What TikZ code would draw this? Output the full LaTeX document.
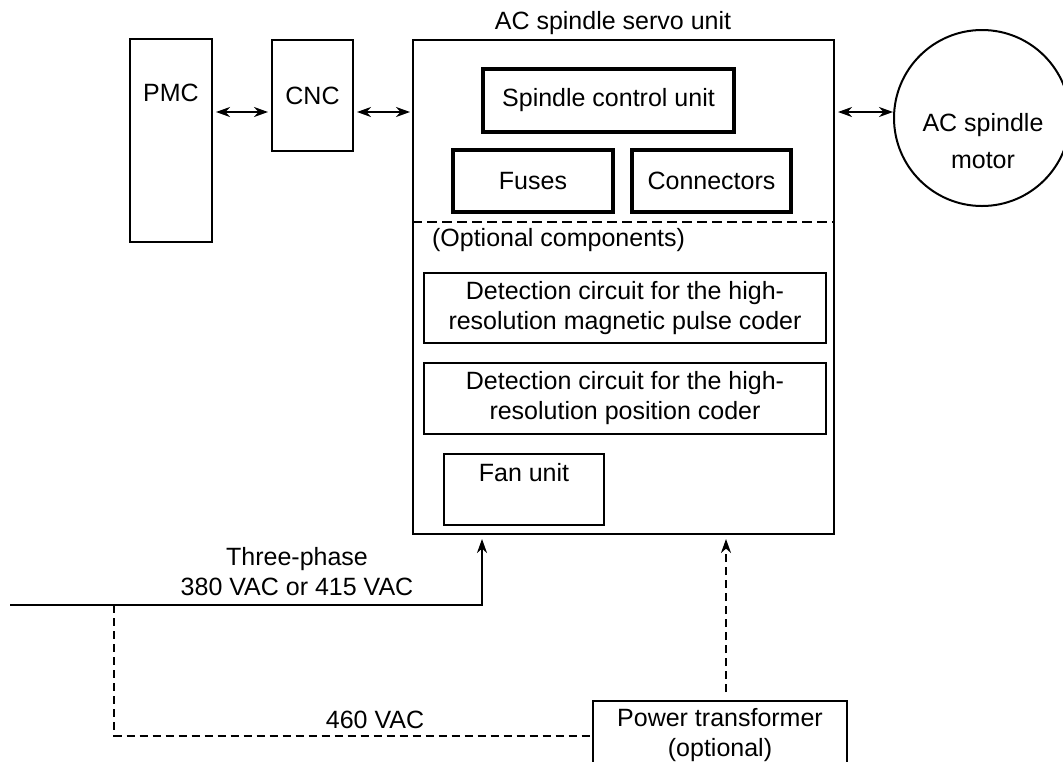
\documentclass[tikz,border=0pt]{standalone}
\usepackage{fontspec}
\setmainfont{Liberation Sans}
\usetikzlibrary{arrows.meta}

\tikzset{
  unitbox/.style={draw, line width=1pt, inner sep=0pt},
  partbox/.style={draw, line width=2pt, inner sep=0pt},
  optbox/.style={draw, line width=1.1pt, inner sep=0pt, align=center},
  optline/.style={line width=1pt, dash pattern=on 4pt off 2.5pt},
  link/.style={line width=1pt},
}

\begin{document}
\begin{tikzpicture}[x=0.5pt, y=-0.5pt, >={Stealth[length=7pt,width=5pt,inset=2.2pt]},
    every node/.style={font=\fontsize{12.5}{15}\selectfont}]
    \useasboundingbox (0,0) rectangle (1063,761);
    % controllers
    \node[unitbox, minimum width=41pt, minimum height=101.5pt] (pmc) at (171,140.5) {};
    \node (pmclabel) at (171,93) {PMC};
    \node[unitbox, minimum width=40.5pt, minimum height=55.5pt] (cnc) at (312.5,95.5) {CNC};
    % servo unit
    \node[unitbox, minimum width=210.5pt, minimum height=247pt] (unit) at (623.5,287) {};
    \node (unitlabel) at (613,23) {AC spindle servo unit};
    \node[partbox, minimum width=125.5pt, minimum height=31.5pt] (scu) at (608.5,100.5) {Spindle control unit};
    \node[partbox, minimum width=80pt, minimum height=31pt] (fuses) at (533,181) {Fuses};
    \node[partbox, minimum width=79.5pt, minimum height=31pt] (conn) at (711.5,181) {Connectors};
    \draw[line width=1pt, dash pattern=on 5pt off 2.5pt] (unit.west |- 0,222) -- (unit.east |- 0,222);
    \node[anchor=west] (optlabel) at (425,240) {(Optional components)};
    \node[optbox, minimum width=201pt, minimum height=35pt] (det1) at (625,308)
      {Detection circuit for the high-\\resolution magnetic pulse coder};
    \node[optbox, minimum width=201pt, minimum height=35.5pt] (det2) at (625,398.5)
      {Detection circuit for the high-\\resolution position coder};
    \node[optbox, minimum width=80pt, minimum height=35.5pt] (fan) at (524,489.5) {};
    \node (fanlabel) at (524,473) {Fan unit};
    % motor
    \node[draw, circle, line width=1pt, minimum size=88pt] (motor) at (982,118) {};
    \node[align=center, font=\fontsize{12.5}{18.5}\selectfont] (motorlabel) at (983,141) {AC spindle\\motor};
    % transformer
    \node[unitbox, align=center, minimum width=127pt, minimum height=34.5pt] (xfmr) at (720,735.5)
      {Power transformer\\(optional)};

    \coordinate (bus) at (0,112);
    \draw[link, <->, shorten <=1.5pt, shorten >=1.5pt] (pmc.east |- bus) -- (cnc.west |- bus);
    \draw[link, <->, shorten <=1.5pt, shorten >=1pt] (cnc.east |- bus) -- (unit.west |- bus);
    \draw[link, <->, shorten <=1.5pt] (unit.east |- bus) -- (motor.west |- bus);

    % power supply
    \coordinate (mains) at (10,605);
    \coordinate (split) at (114,605);
    \coordinate (feed) at (482,605);
    \draw[link, ->, shorten >=2pt] (mains) -- (feed) -- (feed |- unit.south);
    \draw[optline] (split) |- (xfmr.west);
    \draw[optline, ->, shorten <=4pt, shorten >=2pt] ([xshift=3pt]xfmr.north) -- ([xshift=3pt]xfmr.north |- unit.south);
    \node[align=center] (vlow) at (297,572) {Three-phase\\380 VAC or 415 VAC};
    \node (vhigh) at (375,720) {460 VAC};
\end{tikzpicture}
\end{document}
